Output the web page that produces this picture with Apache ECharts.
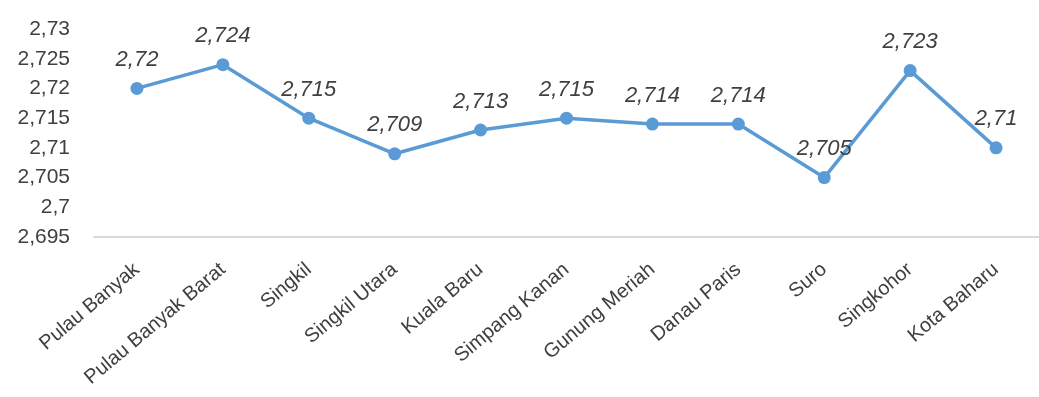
<!DOCTYPE html>
<html>
<head>
<meta charset="utf-8">
<script src="https://cdn.jsdelivr.net/npm/echarts@6/dist/echarts.min.js"></script>
<style>
  html, body { margin: 0; padding: 0; background: #ffffff; }
  #chart { width: 1039px; height: 397px; }
</style>
</head>
<body>
<div id="chart"></div>
<script>
// Sub-district names along the horizontal axis
const categories = [
  'Pulau Banyak', 'Pulau Banyak Barat', 'Singkil', 'Singkil Utara', 'Kuala Baru',
  'Simpang Kanan', 'Gunung Meriah', 'Danau Paris', 'Suro', 'Singkohor', 'Kota Baharu'
];
// Value for each sub-district
const values = [2.72, 2.724, 2.715, 2.709, 2.713, 2.715, 2.714, 2.714, 2.705, 2.723, 2.71];
// Value-axis range
const yMin = 2.695;
const yMax = 2.73;
const yStep = 0.005;

// Decimal comma, no trailing zeros
function fmt(v) {
  return String(parseFloat(Number(v).toFixed(4))).replace('.', ',');
}

const chart = echarts.init(document.getElementById('chart'));
chart.setOption({
  animation: false,
  backgroundColor: '#ffffff',
  grid: { left: 94, top: 29, width: 951, height: 208, containLabel: false },
  xAxis: {
    type: 'category',
    data: categories,
    boundaryGap: true,
    axisLine: { show: true, lineStyle: { color: '#d9d9d9', width: 2 } },
    axisTick: { show: false },
    axisLabel: {
      rotate: 40,
      interval: 0,
      margin: 30,
      color: '#404040',
      fontFamily: 'Liberation Sans, Arial, sans-serif',
      fontSize: 20
    }
  },
  yAxis: {
    type: 'value',
    min: yMin,
    max: yMax,
    interval: yStep,
    splitLine: { show: false },
    axisLine: { show: false },
    axisTick: { show: false },
    axisLabel: {
      formatter: fmt,
      color: '#404040',
      fontFamily: 'Liberation Sans, Arial, sans-serif',
      fontSize: 21,
      margin: 24
    }
  },
  series: [{
    type: 'line',
    data: values,
    symbol: 'circle',
    symbolSize: 13,
    lineStyle: { color: '#5b9bd5', width: 3.5 },
    itemStyle: { color: '#5b9bd5' },
    label: {
      show: true,
      position: 'top',
      distance: 11,
      formatter: p => fmt(p.value),
      color: '#404040',
      fontFamily: 'Liberation Sans, Arial, sans-serif',
      fontStyle: 'italic',
      fontSize: 22
    }
  }]
});
</script>
</body>
</html>
